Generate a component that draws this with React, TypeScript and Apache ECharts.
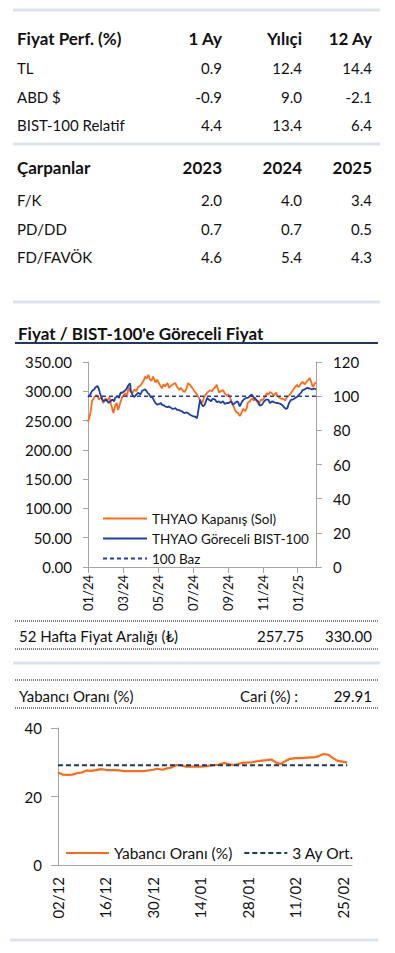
import React, { useEffect, useRef } from "react";
import * as echarts from "echarts";

// ---------- DATA ----------
const PERF_HEADERS = ["Fiyat Perf. (%)", "1 Ay", "Yılıçi", "12 Ay"];
const PERF_ROWS: [string, number, number, number][] = [
  ["TL", 0.9, 12.4, 14.4],
  ["ABD $", -0.9, 9.0, -2.1],
  ["BIST-100 Relatif", 4.4, 13.4, 6.4],
];
const MULT_HEADERS = ["Çarpanlar", "2023", "2024", "2025"];
const MULT_ROWS: [string, number, number, number][] = [
  ["F/K", 2.0, 4.0, 3.4],
  ["PD/DD", 0.7, 0.7, 0.5],
  ["FD/FAVÖK", 4.6, 5.4, 4.3],
];
const CHART1_TITLE = "Fiyat / BIST-100'e Göreceli Fiyat";
const RANGE_LABEL = "52 Hafta Fiyat Aralığı (₺)";
const RANGE_LOW = 257.75;
const RANGE_HIGH = 330.0;
const FOREIGN_LABEL = "Yabancı Oranı (%)";
const FOREIGN_CURRENT = 29.91;

// trading-day index (0 = 02/01/2024) and tick labels
const PERF_TICKS = [0, 44, 88, 132, 176, 220, 264];
const PERF_TICK_LABELS = ["01/24", "03/24", "05/24", "07/24", "09/24", "11/24", "01/25"];
const PERF_LAST_DAY = 287;

// THYAO close (left axis), [trading-day index, TL]
const THYAO_CLOSE: [number, number][] = [
  [0, 248], [3, 262], [5, 283], [8, 290], [11, 294], [14, 286], [17, 290], [19, 280],
  [22, 288], [24, 283], [27, 290], [29, 278], [32, 263], [34, 275], [36, 280], [38, 268],
  [41, 282], [43, 290], [47, 297], [49, 290], [51, 307], [53, 300], [56, 297], [58, 303],
  [61, 300], [63, 307], [66, 310], [68, 314], [70, 318], [72, 325], [74, 322], [76, 328],
  [78, 320], [80, 318], [82, 325], [85, 315], [87, 320], [90, 312], [93, 305], [95, 312],
  [97, 308], [100, 314], [102, 306], [105, 310], [107, 312], [110, 314], [112, 308], [115, 302],
  [117, 306], [120, 300], [122, 299], [124, 305], [126, 314], [129, 310], [131, 306], [134, 300],
  [136, 297], [139, 290], [141, 285], [144, 280], [146, 290], [149, 296], [151, 299], [154, 302],
  [156, 300], [159, 306], [160, 307], [162, 311], [165, 298], [167, 300], [170, 302], [172, 297],
  [175, 292], [177, 295], [180, 285], [181, 280], [184, 272], [185, 268], [187, 264], [189, 263],
  [190, 260], [191, 257.75], [193, 262], [195, 270], [198, 266], [200, 272], [201, 280], [204, 283],
  [206, 288], [209, 284], [210, 290], [213, 282], [215, 278], [218, 286], [220, 285], [223, 291],
  [225, 297], [227, 294], [229, 299], [232, 296], [234, 293], [237, 298], [238, 292], [240, 290],
  [243, 287], [245, 288], [248, 284], [250, 289], [253, 293], [254, 294], [257, 300], [258, 302],
  [260, 306], [263, 311], [265, 307], [268, 313], [270, 316], [273, 312], [276, 318], [278, 320],
  [279, 323], [281, 316], [283, 307], [285, 312], [287, 316],
];

// THYAO relative to BIST-100 (right axis)
const THYAO_REL: [number, number][] = [
  [0, 99.5], [3, 101], [5, 103], [8, 104], [9, 105], [12, 106], [13, 105], [15, 102],
  [18, 98], [20, 97], [23, 98], [26, 96], [28, 97], [31, 98], [33, 97], [34, 99],
  [37, 100], [39, 99], [41, 102], [43, 102], [46, 103], [48, 104], [51, 106.5], [53, 107.5],
  [54, 103], [56, 100.7], [58, 99.5], [61, 101], [63, 102], [66, 101], [68, 103], [70, 103.6],
  [72, 104], [75, 102], [77, 101], [79, 99.5], [81, 99.5], [83, 97.5], [85, 96], [87, 95],
  [90, 95.5], [92, 96], [93, 95], [96, 94.5], [97, 94], [100, 93.5], [102, 94], [105, 93],
  [107, 92.5], [110, 93], [112, 92], [114, 92], [116, 91.5], [119, 91], [121, 90], [124, 90.5],
  [126, 90], [129, 89], [131, 88.5], [134, 88], [135, 88], [137, 87], [138, 89], [139, 92],
  [141, 98], [142, 96], [145, 94], [147, 95], [150, 99], [152, 98], [155, 97], [157, 98.5],
  [160, 98], [162, 96.5], [165, 97], [167, 96], [170, 97], [172, 95.5], [175, 96], [177, 96],
  [180, 97], [183, 95], [185, 96], [188, 97], [189, 96.5], [191, 94], [194, 97], [196, 98],
  [199, 99], [201, 99], [204, 100], [206, 101], [209, 99], [211, 98], [214, 97], [216, 94.5],
  [219, 95], [221, 96.5], [224, 98], [227, 98], [229, 96], [232, 97], [234, 96.5], [237, 96],
  [239, 96], [242, 95.5], [244, 95], [247, 93.5], [249, 92.5], [251, 93], [253, 96], [256, 98],
  [258, 98], [261, 99], [263, 99.5], [266, 101], [268, 102], [269, 102.5], [270, 103.6], [273, 104],
  [276, 105], [278, 104.5], [279, 104.5], [282, 104], [285, 104.5], [287, 104],
];
const BASE_100 = 100;

// Foreign ownership, trading days 02/12/2024 - 27/02/2025
const FOREIGN_DATES = [
  "02/12", "03/12", "04/12", "05/12", "06/12", "09/12", "10/12", "11/12", "12/12", "13/12",
  "16/12", "17/12", "18/12", "19/12", "20/12", "23/12", "24/12", "25/12", "26/12", "27/12",
  "30/12", "31/12", "02/01", "03/01", "06/01", "07/01", "08/01", "09/01", "10/01", "13/01",
  "14/01", "15/01", "16/01", "17/01", "20/01", "21/01", "22/01", "23/01", "24/01", "27/01",
  "28/01", "29/01", "30/01", "31/01", "03/02", "04/02", "05/02", "06/02", "07/02", "10/02",
  "11/02", "12/02", "13/02", "14/02", "17/02", "18/02", "19/02", "20/02", "21/02", "24/02",
  "25/02", "26/02", "27/02",
];
const FOREIGN_RATIO = [
  27.0, 26.4, 26.3, 26.4, 26.8, 27.0, 27.6, 27.5, 27.7, 28.0,
  27.8, 27.7, 27.7, 27.6, 27.4, 27.4, 27.4, 27.4, 27.4, 27.6,
  27.8, 28.1, 27.8, 28.2, 28.5, 29.2, 29.1, 28.7, 28.7, 28.7,
  28.7, 28.8, 29.0, 29.2, 29.3, 29.8, 29.5, 29.2, 29.5, 29.9,
  29.9, 30.0, 30.3, 30.5, 30.6, 30.8, 29.9, 29.5, 30.4, 31.0,
  31.2, 31.2, 31.3, 31.4, 31.4, 31.8, 32.4, 32.2, 31.2, 30.4,
  30.2, 29.91,
];
const FOREIGN_AVG_3M = 29.1;

// ---------- STYLE ----------
const ORANGE = "#FF6A14";
const BLUE = "#1E3FA8";
const NAVY = "#1F3864";
const AXIS = "#A6A6A6";
const TXT = "#111111";
const LIGHT = "#DDE3EC";
const FONT = "Lato";

export default function App() {
  const ref = useRef<HTMLDivElement>(null);

  useEffect(() => {
    if (!ref.current) return;
    const chart = echarts.init(ref.current, null, { renderer: "svg" });

    const colX = [222, 302, 372];
    const g: any[] = [];
    const text = (t: string, x: number, y: number, opts: any = {}) =>
      g.push({
        type: "text",
        x,
        y,
        style: {
          text: t,
          fill: TXT,
          font: `${opts.bold ? "bold " : ""}${opts.size || 15}px ${FONT}`,
          align: opts.align || "left",
          verticalAlign: "middle",
        },
      });
    const hline = (y: number, x1: number, x2: number, stroke: string, w: number, dash?: number[]) =>
      g.push({
        type: "line",
        shape: { x1, y1: y, x2, y2: y },
        style: { stroke, lineWidth: w, lineDash: dash },
      });

    // table 1
    hline(10, 13, 380, LIGHT, 3);
    const t1y = [38, 68, 97, 125];
    PERF_HEADERS.forEach((h, i) =>
      text(h, i === 0 ? 17 : colX[i - 1], t1y[0], { bold: true, size: 17, align: i === 0 ? "left" : "right" })
    );
    PERF_ROWS.forEach((r, ri) => {
      text(r[0], 17, t1y[ri + 1]);
      [r[1], r[2], r[3]].forEach((v, ci) => text(v.toFixed(1), colX[ci], t1y[ri + 1], { align: "right" }));
    });
    hline(144, 13, 380, LIGHT, 3);

    // table 2
    const t2y = [167, 200, 229, 257];
    MULT_HEADERS.forEach((h, i) =>
      text(h, i === 0 ? 17 : colX[i - 1], t2y[0], { bold: true, size: 17, align: i === 0 ? "left" : "right" })
    );
    MULT_ROWS.forEach((r, ri) => {
      text(r[0], 17, t2y[ri + 1]);
      [r[1], r[2], r[3]].forEach((v, ci) => text(v.toFixed(1), colX[ci], t2y[ri + 1], { align: "right" }));
    });
    hline(302, 13, 380, LIGHT, 3);

    // chart 1 title
    text(CHART1_TITLE, 18, 333, { bold: true, size: 17 });
    hline(343, 15, 378, NAVY, 2);

    // 52 week range
    hline(621, 15, 378, "#555", 1.5, [1, 1]);
    text(RANGE_LABEL, 19, 636);
    text(RANGE_LOW.toFixed(2), 304, 636, { align: "right" });
    text(RANGE_HIGH.toFixed(2), 372, 636, { align: "right" });
    hline(649, 15, 378, "#555", 1.5, [1, 1]);

    hline(663, 13, 380, LIGHT, 3);

    // foreign ratio header
    hline(680, 15, 378, "#555", 1.5, [1, 1]);
    text(FOREIGN_LABEL, 19, 696);
    text("Cari (%) :", 298, 696, { align: "right" });
    text(FOREIGN_CURRENT.toFixed(2), 372, 696, { align: "right" });
    hline(708, 15, 378, "#555", 1.5, [1, 1]);

    hline(940, 10, 378, LIGHT, 3);

    const axisLine = { show: true, lineStyle: { color: AXIS, width: 1 } };
    const axisTick = { show: true, length: 6, lineStyle: { color: AXIS } };
    const lbl = { color: TXT, fontFamily: FONT, fontSize: 15 };
    const noSymbol = { color: "transparent", borderColor: "transparent", borderWidth: 0, opacity: 0 };

    const option: any = {
      animation: false,
      textStyle: { fontFamily: FONT },
      grid: [
        { left: 88, top: 362, width: 228, height: 205 },
        { left: 58, top: 728, width: 294, height: 137 },
      ],
      xAxis: [
        {
          type: "value",
          gridIndex: 0,
          min: 0,
          max: PERF_LAST_DAY,
          axisLine,
          axisTick: { ...axisTick, customValues: PERF_TICKS },
          splitLine: { show: false },
          axisLabel: {
            ...lbl,
            fontSize: 13,
            rotate: 90,
            margin: 8,
            customValues: PERF_TICKS,
            formatter: (v: number) => PERF_TICK_LABELS[PERF_TICKS.indexOf(v)] || "",
          },
        },
        {
          type: "category",
          gridIndex: 1,
          data: FOREIGN_DATES,
          boundaryGap: false,
          axisLine,
          axisTick: { show: false },
          axisLabel: { ...lbl, rotate: 90, margin: 12, interval: 9 },
        },
      ],
      yAxis: [
        {
          type: "value",
          gridIndex: 0,
          position: "left",
          min: 0,
          max: 350,
          interval: 50,
          axisLine,
          axisTick: { ...axisTick, length: 5 },
          splitLine: { show: false },
          axisLabel: { ...lbl, margin: 16, formatter: (v: number) => v.toFixed(2) },
        },
        {
          type: "value",
          gridIndex: 0,
          position: "right",
          min: 0,
          max: 120,
          interval: 20,
          axisLine,
          axisTick,
          splitLine: { show: false },
          axisLabel: { ...lbl, margin: 17 },
        },
        {
          type: "value",
          gridIndex: 1,
          min: 0,
          max: 40,
          interval: 20,
          axisLine,
          axisTick: { ...axisTick, length: 7 },
          splitLine: { show: false },
          axisLabel: { ...lbl, margin: 16 },
        },
      ],
      legend: [
        {
          orient: "vertical",
          left: 102,
          top: 511,
          padding: 0,
          itemWidth: 44,
          itemHeight: 14,
          itemGap: 5,
          itemStyle: noSymbol,
          textStyle: { color: TXT, fontFamily: FONT, fontSize: 13.5, lineHeight: 15 },
          data: ["THYAO Kapanış (Sol)", "THYAO Göreceli BIST-100", "100 Baz"],
          selectedMode: false,
        },
        {
          orient: "horizontal",
          left: 65,
          top: 845,
          padding: 0,
          itemWidth: 43,
          itemHeight: 14,
          itemGap: 11,
          itemStyle: noSymbol,
          textStyle: { color: TXT, fontFamily: FONT, fontSize: 15.5 },
          data: [FOREIGN_LABEL, "3 Ay Ort."],
          selectedMode: false,
        },
      ],
      series: [
        {
          name: "THYAO Kapanış (Sol)",
          type: "line",
          xAxisIndex: 0,
          yAxisIndex: 0,
          data: THYAO_CLOSE,
          symbol: "none",
          lineStyle: { color: ORANGE, width: 1.8 },
          itemStyle: { color: ORANGE },
        },
        {
          name: "THYAO Göreceli BIST-100",
          type: "line",
          xAxisIndex: 0,
          yAxisIndex: 1,
          data: THYAO_REL,
          symbol: "none",
          lineStyle: { color: BLUE, width: 1.8 },
          itemStyle: { color: BLUE },
        },
        {
          name: "100 Baz",
          type: "line",
          xAxisIndex: 0,
          yAxisIndex: 1,
          data: [
            [0, BASE_100],
            [PERF_LAST_DAY, BASE_100],
          ],
          symbol: "none",
          lineStyle: { color: BLUE, width: 1.5, type: [4, 3] },
          itemStyle: { color: BLUE },
        },
        {
          name: FOREIGN_LABEL,
          type: "line",
          xAxisIndex: 1,
          yAxisIndex: 2,
          data: FOREIGN_RATIO,
          symbol: "none",
          lineStyle: { color: ORANGE, width: 2.2 },
          itemStyle: { color: ORANGE },
        },
        {
          name: "3 Ay Ort.",
          type: "line",
          xAxisIndex: 1,
          yAxisIndex: 2,
          data: FOREIGN_RATIO.map(() => FOREIGN_AVG_3M),
          symbol: "none",
          lineStyle: { color: NAVY, width: 2, type: [5, 3] },
          itemStyle: { color: NAVY },
        },
      ],
      graphic: g,
    };

    chart.setOption(option);
    return () => chart.dispose();
  }, []);

  return (
    <div
      ref={ref}
      style={{ position: "absolute", left: 0, top: 0, width: 395, height: 953, background: "#fff" }}
    />
  );
}
